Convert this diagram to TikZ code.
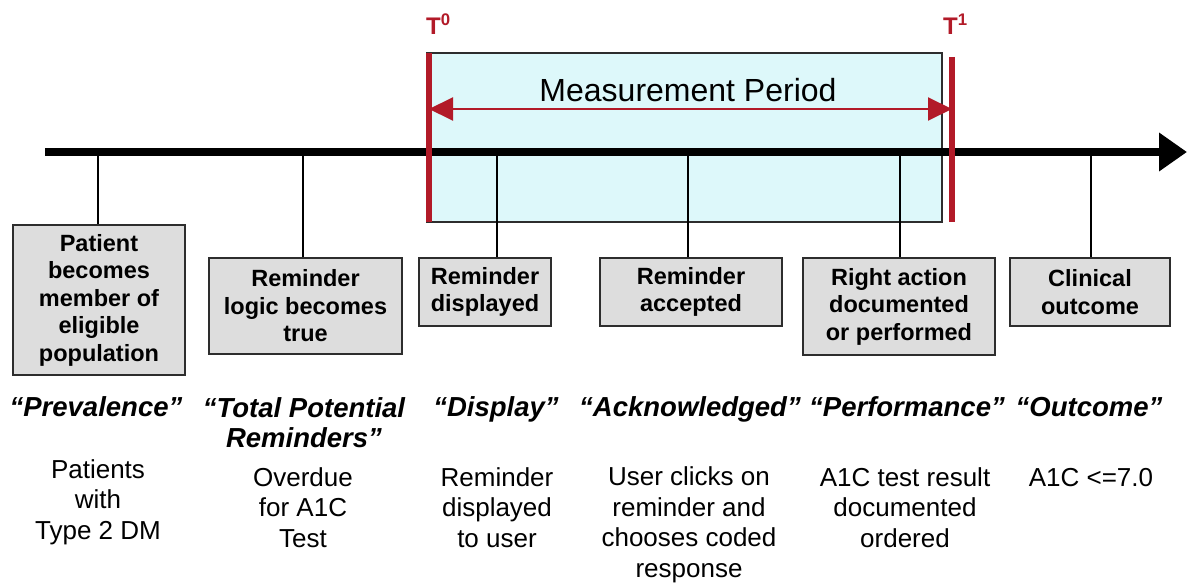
\documentclass[tikz,border=0pt]{standalone}
\usepackage{fontspec}
\setmainfont{Liberation Sans}
\usepackage{tikz}
\usetikzlibrary{positioning,arrows.meta}

\definecolor{markred}{RGB}{178,26,40}
\definecolor{periodfill}{RGB}{221,248,250}
\definecolor{boxfill}{RGB}{221,221,221}
\definecolor{boxline}{RGB}{45,45,45}

\begin{document}
\begin{tikzpicture}[x=1pt, y=-1pt,
    event/.style={draw=boxline, fill=boxfill, line width=2.5pt, inner sep=0pt, align=center,
        font=\bfseries\fontsize{23.5}{27.5}\selectfont},
    phase/.style={anchor=base, inner sep=0pt, align=center,
        font=\bfseries\itshape\fontsize{27.5}{30}\selectfont},
    detail/.style={anchor=base, inner sep=0pt, align=center,
        font=\fontsize{26}{30.5}\selectfont},
    tmarker/.style={markred, line width=6pt},
    tlabel/.style={anchor=base west, inner sep=0pt, text=markred,
        font=\bfseries\fontsize{24}{26}\selectfont},
    drop/.style={line width=1.5pt}]

    \useasboundingbox (0,0) rectangle (1187,585);

    
    \node[draw=boxline, fill=periodfill, line width=1.5pt, minimum width=515pt, minimum height=169pt,
        inner sep=0pt] (period) at (684.5,137.5) {};
    \node[anchor=base, inner sep=0pt, font=\fontsize{32}{36}\selectfont] (mp) at (688,102) {Measurement Period};

    
    \coordinate (start) at (45,152);
    \coordinate (end) at (1187,152);
    \draw[line width=7.5pt, -{Triangle[length=28pt,width=37pt]}] (start) -- (end);

    
    \coordinate (t0top) at (429,53);
    \coordinate (t0bot) at (429,222);
    \coordinate (t1top) at (952,57);
    \coordinate (t1bot) at (952,222);
    \draw[tmarker] (t0top) -- (t0bot);
    \draw[tmarker] (t1top) -- (t1bot);
    \draw[markred, line width=2pt, {Triangle[length=24pt,width=23pt]}-{Triangle[length=24pt,width=23pt]}]
        (t0top |- 0,109) -- (t1top |- 0,109);
    \node[tlabel] (T0) at (426,35) {T\textsuperscript{0}};
    \node[tlabel] (T1) at (943,35) {T\textsuperscript{1}};

    
    \node[event, minimum width=172pt, minimum height=150pt] (b1) at (99,300)
        {Patient\\becomes\\member of\\eligible\\population};
    \node[event, minimum width=193pt, minimum height=96pt] (b2) at (305.5,306)
        {Reminder\\logic becomes\\true};
    \node[event, minimum width=132pt, minimum height=68pt] (b3) at (485,292)
        {Reminder\\displayed};
    \node[event, minimum width=182pt, minimum height=68pt] (b4) at (691,292)
        {Reminder\\accepted};
    \node[event, minimum width=192pt, minimum height=97pt] (b5) at (899,306.5)
        {Right action\\documented\\or performed};
    \node[event, minimum width=160pt, minimum height=68pt] (b6) at (1090,292)
        {Clinical\\outcome};

    
    \coordinate (k1) at (98,152);
    \coordinate (k2) at (303,152);
    \coordinate (k3) at (497,152);
    \coordinate (k4) at (688,152);
    \coordinate (k5) at (900,152);
    \coordinate (k6) at (1091,152);
    \draw[drop] (k1) -- (k1 |- b1.north);
    \draw[drop] (k2) -- (k2 |- b2.north);
    \draw[drop] (k3) -- (k3 |- b3.north);
    \draw[drop] (k4) -- (k4 |- b4.north);
    \draw[drop] (k5) -- (k5 |- b5.north);
    \draw[drop] (k6) -- (k6 |- b6.north);

    
    \node[phase] (p1) at (96,417) {“Prevalence”};
    \node[phase] (p2) at (304,447) {“Total Potential\\Reminders”};
    \node[phase] (p3) at (496,417) {“Display”};
    \node[phase] (p4) at (690,417) {“Acknowledged”};
    \node[phase] (p5) at (907,417) {“Performance”};
    \node[phase] (p6) at (1089,417) {“Outcome”};

    
    \node[detail] (d1) at (98,539) {Patients\\with\\Type 2 DM};
    \node[detail] (d2) at (303,547) {Overdue\\for A1C\\Test};
    \node[detail] (d3) at (497,547) {Reminder\\displayed\\to user};
    \node[detail] (d4) at (689,577) {User clicks on\\reminder and\\chooses coded\\response};
    \node[detail] (d5) at (905,547) {A1C test result\\documented\\ordered};
    \node[detail] (d6) at (1091,486) {A1C <=7.0};

\end{tikzpicture}
\end{document}
